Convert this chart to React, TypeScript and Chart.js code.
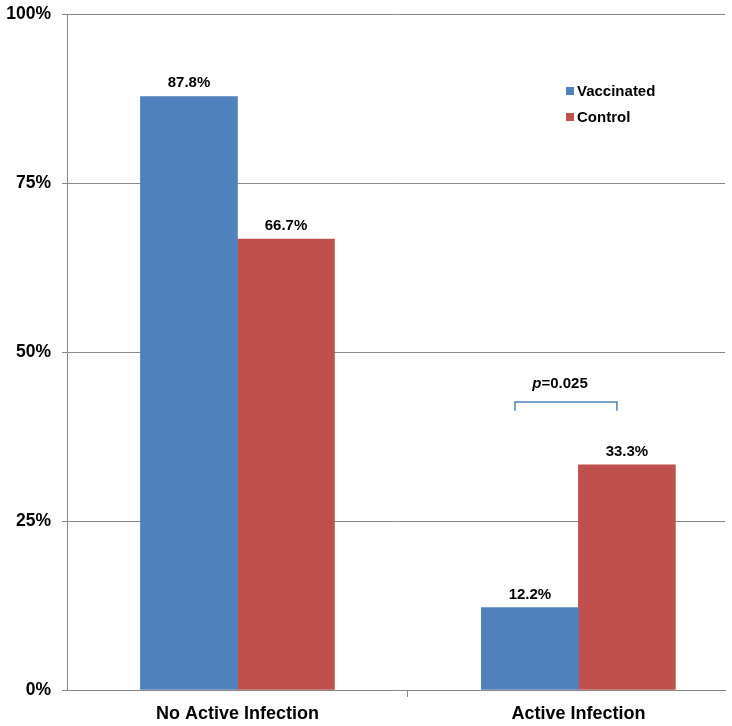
import React, { useEffect, useRef } from "react";
import { Chart, registerables } from "chart.js";

Chart.register(...registerables);

const categories = ["No Active Infection", "Active Infection"];
const vaccinated = [87.8, 12.2];
const control = [66.7, 33.3];
const yTicks = [0, 25, 50, 75, 100];
const seriesNames = ["Vaccinated", "Control"];
const seriesColors = ["#4F81BD", "#C0504D"];
const pLabelItalic = "p";
const pLabelRest = "=0.025";
// bracket span in data units (x in category index units, y in %)
const bracketX = [0.814, 1.113];
const bracketY = [41.3, 42.6];
const pTextPos = [0.946, 45.3];

const FONT = "'Liberation Sans', Arial, Helvetica, sans-serif";
const GRID = "#878787";

const dataLabelsPlugin = {
  id: "dataLabels",
  afterDatasetsDraw(chart: any) {
    const ctx = chart.ctx;
    ctx.save();
    ctx.font = `bold 15px ${FONT}`;
    ctx.fillStyle = "#000";
    ctx.textAlign = "center";
    ctx.textBaseline = "alphabetic";
    chart.data.datasets.forEach((ds: any, di: number) => {
      const meta = chart.getDatasetMeta(di);
      meta.data.forEach((el: any, i: number) => {
        const v = ds.data[i].y;
        ctx.fillText(v.toFixed(1) + "%", el.x, el.y - 9);
      });
    });
    ctx.restore();
  },
};

const legendPlugin = {
  id: "customLegend",
  afterDraw(chart: any) {
    const ctx = chart.ctx;
    const area = chart.chartArea;
    const x0 = area.right - 159;
    const y0 = area.top + 77;
    ctx.save();
    ctx.font = `bold 15px ${FONT}`;
    ctx.textBaseline = "middle";
    ctx.textAlign = "left";
    chart.data.datasets.forEach((ds: any, i: number) => {
      const y = y0 + i * 26;
      ctx.fillStyle = ds.backgroundColor;
      ctx.fillRect(x0, y - 4, 8, 8);
      ctx.fillStyle = "#000";
      ctx.fillText(ds.label, x0 + 11, y + 1);
    });
    ctx.restore();
  },
};

const annotationPlugin = {
  id: "pAnnotation",
  afterDraw(chart: any) {
    const ctx = chart.ctx;
    const xs = chart.scales.x;
    const ys = chart.scales.y;
    const xa = xs.getPixelForValue(bracketX[0]);
    const xb = xs.getPixelForValue(bracketX[1]);
    const yLow = ys.getPixelForValue(bracketY[0]);
    const yHigh = ys.getPixelForValue(bracketY[1]);
    ctx.save();
    ctx.strokeStyle = seriesColors[0];
    ctx.lineWidth = 1.5;
    ctx.beginPath();
    ctx.moveTo(xa, yLow);
    ctx.lineTo(xa, yHigh);
    ctx.lineTo(xb, yHigh);
    ctx.lineTo(xb, yLow);
    ctx.stroke();

    const cx = xs.getPixelForValue(pTextPos[0]);
    const cy = ys.getPixelForValue(pTextPos[1]);
    ctx.fillStyle = "#000";
    ctx.textBaseline = "middle";
    ctx.textAlign = "left";
    ctx.font = `italic bold 15px ${FONT}`;
    const w1 = ctx.measureText(pLabelItalic).width;
    ctx.font = `bold 15px ${FONT}`;
    const w2 = ctx.measureText(pLabelRest).width;
    const start = cx - (w1 + w2) / 2;
    ctx.font = `italic bold 15px ${FONT}`;
    ctx.fillText(pLabelItalic, start, cy);
    ctx.font = `bold 15px ${FONT}`;
    ctx.fillText(pLabelRest, start + w1, cy);
    ctx.restore();
  },
};

export default function App() {
  const ref = useRef<HTMLCanvasElement | null>(null);

  useEffect(() => {
    if (!ref.current) return;
    const chart = new Chart(ref.current, {
      type: "bar",
      data: {
        datasets: [
          {
            label: seriesNames[0],
            data: categories.map((_, i) => ({ x: i, y: vaccinated[i] })),
            backgroundColor: seriesColors[0],
            borderWidth: 0,
          },
          {
            label: seriesNames[1],
            data: categories.map((_, i) => ({ x: i, y: control[i] })),
            backgroundColor: seriesColors[1],
            borderWidth: 0,
          },
        ],
      },
      options: {
        responsive: false,
        animation: false,
        barThickness: 97,
        layout: { padding: { top: 14, right: 7, left: 0, bottom: 0 } },
        plugins: {
          legend: { display: false },
          tooltip: { enabled: false },
        },
        scales: {
          x: {
            type: "linear",
            offset: false,
            min: -0.5,
            max: 1.43,
            afterBuildTicks: (scale: any) => {
              scale.ticks = [{ value: 0 }, { value: 0.5 }, { value: 1 }];
            },
            afterFit: (scale: any) => {
              scale.height = 36;
            },
            grid: {
              offset: false,
              drawOnChartArea: false,
              drawTicks: true,
              tickLength: 7,
              color: (c: any) =>
                c.tick && c.tick.value === 0.5 ? GRID : "rgba(0,0,0,0)",
            },
            border: { display: true, color: GRID },
            ticks: {
              autoSkip: false,
              maxRotation: 0,
              padding: 6,
              color: "#000",
              font: { family: FONT, size: 18, weight: "bold" },
              callback: (v: any) =>
                Number.isInteger(v) ? categories[v] ?? "" : "",
            },
          },
          y: {
            min: 0,
            max: 100,
            afterBuildTicks: (scale: any) => {
              scale.ticks = yTicks.map((v) => ({ value: v }));
            },
            afterFit: (scale: any) => {
              scale.width = 67;
              scale.paddingTop = 0;
              scale.paddingBottom = 0;
            },
            grid: { color: GRID, tickLength: 5, lineWidth: 1 },
            border: { display: true, color: GRID },
            ticks: {
              padding: 11,
              color: "#000",
              font: { family: FONT, size: 17.5, weight: "bold" },
              callback: (v: any) => v + "%",
            },
          },
        },
      } as any,
      plugins: [dataLabelsPlugin, legendPlugin, annotationPlugin],
    });
    return () => chart.destroy();
  }, []);

  return (
    <div style={{ position: "fixed", left: 0, top: 0, width: 732, height: 726, background: "#fff" }}>
      <canvas ref={ref} width={732} height={726} />
    </div>
  );
}
